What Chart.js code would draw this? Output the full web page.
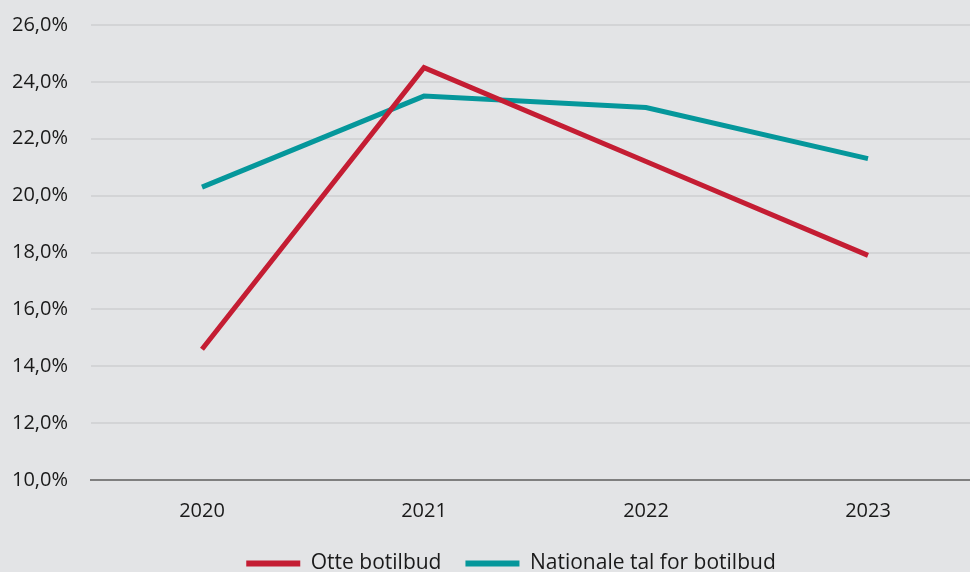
<!DOCTYPE html>
<html>
<head>
<meta charset="utf-8">
<script src="https://cdn.jsdelivr.net/npm/chart.js@4/dist/chart.umd.min.js"></script>
<style>
  html, body { margin: 0; padding: 0; overflow: hidden; background: #e3e4e6; }
  #wrap { width: 1022px; height: 582px; margin-top: -10px; position: relative; }
</style>
</head>
<body>
<div id="wrap"><canvas id="chart"></canvas></div>
<script>
// data
const years = ['2020', '2021', '2022', '2023'];
const otteBotilbud = [14.6, 24.5, 21.2, 17.9];
const nationaleTal = [20.3, 23.5, 23.1, 21.3];
const seriesNames = ['Otte botilbud', 'Nationale tal for botilbud'];

const RED = '#c41d33';
const TEAL = '#05979b';

Chart.defaults.font.family = '"Open Sans", "Noto Sans", sans-serif';
Chart.defaults.font.size = 20;
Chart.defaults.color = '#1a1a1a';

// legend shifted right so it is centred like the original
const legendShift = {
    id: 'legendShift',
    afterLayout(chart) {
        chart.legend.left += 43;
    }
};

const ctx = document.getElementById('chart').getContext('2d');
const chart = new Chart(ctx, {
    type: 'line',
    data: {
        labels: years,
        datasets: [{
            label: seriesNames[0],
            data: otteBotilbud,
            borderColor: RED,
            backgroundColor: RED,
            borderWidth: 5,
            pointRadius: 0,
            tension: 0
        }, {
            label: seriesNames[1],
            data: nationaleTal,
            borderColor: TEAL,
            backgroundColor: TEAL,
            borderWidth: 5,
            pointRadius: 0,
            tension: 0
        }]
    },
    options: {
        responsive: true,
        maintainAspectRatio: false,
        animation: false,
        layout: { padding: { top: 0, right: 43, left: 0, bottom: 0 } },
        scales: {
            x: {
                offset: true,
                grid: { display: false, drawTicks: false },
                border: { display: true, color: '#7f7f7f', width: 2 },
                ticks: { padding: 19, maxRotation: 0 },
                afterFit: s => { s.height = 49; }
            },
            y: {
                min: 10,
                max: 26,
                ticks: {
                    stepSize: 2,
                    padding: 23,
                    callback: v => v.toFixed(1).replace('.', ',') + '%'
                },
                grid: { color: '#d3d4d6', lineWidth: 2, drawTicks: false },
                border: { display: false },
                afterFit: s => { s.width = 91; }
            }
        },
        plugins: {
            legend: {
                position: 'bottom',
                maxHeight: 43,
                labels: {
                    font: { size: 21 },
                    boxWidth: 54,
                    boxHeight: 6,
                    padding: 24,
                    useBorderRadius: true,
                    borderRadius: 3,
                    generateLabels: c => c.data.datasets.map((d, i) => ({
                        text: d.label,
                        fillStyle: d.borderColor,
                        strokeStyle: d.borderColor,
                        lineWidth: 0,
                        hidden: false,
                        datasetIndex: i,
                        fontColor: '#1a1a1a'
                    }))
                }
            },
            tooltip: { enabled: false }
        }
    },
    plugins: [legendShift]
});
</script>
</body>
</html>
